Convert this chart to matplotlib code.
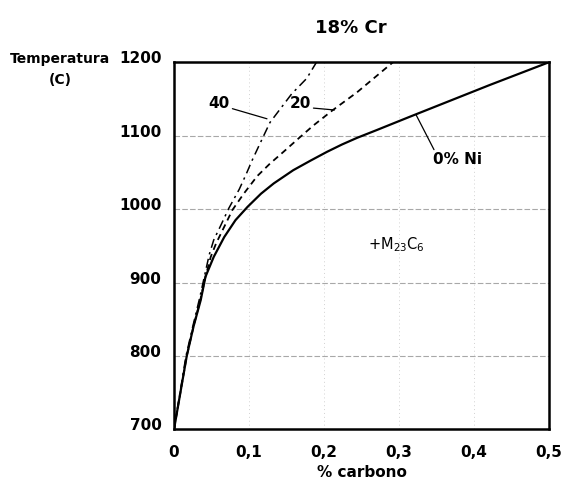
import matplotlib
matplotlib.use('Agg')
import matplotlib.pyplot as plt
import matplotlib.transforms as mtransforms

plt.rcParams['font.family'] = ['DejaVu Sans']

# solubility curves: % carbon vs temperature (C)
c_ni0 = [0, 0.017, 0.026, 0.0356, 0.042, 0.053, 0.067, 0.082, 0.098, 0.116, 0.133,
         0.159, 0.182, 0.204, 0.224, 0.244, 0.270, 0.315, 0.421, 0.5]
t_ni0 = [700, 800, 840, 876, 908, 935, 962, 985, 1003, 1021, 1035,
         1053, 1066, 1078, 1088, 1097, 1107.5, 1126, 1169, 1200]

c_ni20 = [0, 0.017, 0.026, 0.035, 0.042, 0.049, 0.056, 0.067, 0.078, 0.093, 0.111,
          0.128, 0.146, 0.168, 0.186, 0.212, 0.244, 0.292]
t_ni20 = [700, 800, 840, 876, 908, 935, 953, 976, 999, 1021, 1045,
          1062, 1078, 1098, 1114, 1135, 1159, 1200]

c_ni40 = [0, 0.016, 0.025, 0.034, 0.042, 0.047, 0.053, 0.062, 0.073, 0.087, 0.096,
          0.104, 0.115, 0.128, 0.157, 0.177, 0.190]
t_ni40 = [700, 800, 840, 878, 915, 938, 958, 977, 1001, 1027, 1047,
          1066, 1090, 1118, 1157, 1178, 1200]

x_ticks = [0, 0.1, 0.2, 0.3, 0.4, 0.5]
x_labels = ['0', '0,1', '0,2', '0,3', '0,4', '0,5']
y_ticks = [700, 800, 900, 1000, 1100, 1200]

fig = plt.figure(figsize=(5.66, 4.9), dpi=100)
ax = fig.add_axes([0.3074, 0.1235, 0.6625, 0.7495])

# faint grid
for t in y_ticks[1:-1]:
    ax.axhline(t, color='#a8a8a8', lw=0.8, ls=(0, (5, 2)), zorder=0)
for c in x_ticks[1:-1]:
    ax.axvline(c, color='#d2d2d2', lw=0.7, ls=(0, (1, 3)), zorder=0)

ax.plot(c_ni0, t_ni0, color='black', lw=1.6)
ax.plot(c_ni20, t_ni20, color='black', lw=1.3, ls=(0, (3.5, 2.5)))
ax.plot(c_ni40, t_ni40, color='black', lw=1.1, ls=(0, (6, 3, 1.5, 3)))

ax.set_xlim(0, 0.5)
ax.set_ylim(700, 1200)
ax.set_xticks(x_ticks)
ax.set_xticklabels(x_labels)
ax.set_yticks(y_ticks)
ax.tick_params(length=0, labelsize=11)
ax.tick_params(axis='x', pad=11)
ax.tick_params(axis='y', pad=9)
up = mtransforms.ScaledTranslation(0, 5 / 100, fig.dpi_scale_trans)
for lab in ax.get_yticklabels():
    lab.set_transform(lab.get_transform() + up)
for lab in ax.get_xticklabels() + ax.get_yticklabels():
    lab.set_fontweight('bold')
for s in ax.spines.values():
    s.set_linewidth(1.8)

ax.set_xlabel('% carbono', fontsize=11, fontweight='bold', labelpad=4)
fig.text(0.620, 0.943, '18% Cr', ha='center', va='center', fontsize=13, fontweight='bold')
fig.text(0.106, 0.880, 'Temperatura', ha='center', va='center', fontsize=10, fontweight='bold')
fig.text(0.106, 0.836, '(C)', ha='center', va='center', fontsize=10, fontweight='bold')

lead = dict(arrowstyle='-', color='black', lw=0.9, shrinkA=0, shrinkB=0)
ax.annotate('40', xy=(0.124, 1123), xytext=(0.060, 1144), ha='center', va='center',
            fontsize=11, fontweight='bold', arrowprops=dict(lead, relpos=(1, 0.2)))
ax.annotate('20', xy=(0.214, 1135), xytext=(0.168, 1144), ha='center', va='center',
            fontsize=11, fontweight='bold', arrowprops=dict(lead, relpos=(1, 0.2)))
ax.annotate('0% Ni', xy=(0.323, 1128), xytext=(0.378, 1067), ha='center', va='center',
            fontsize=11, fontweight='bold', arrowprops=dict(lead, relpos=(0.05, 1)))
ax.text(0.296, 951, r'+M$_{23}$C$_6$', ha='center', va='center', fontsize=10.5)

fig.savefig('out.png', dpi=100)
